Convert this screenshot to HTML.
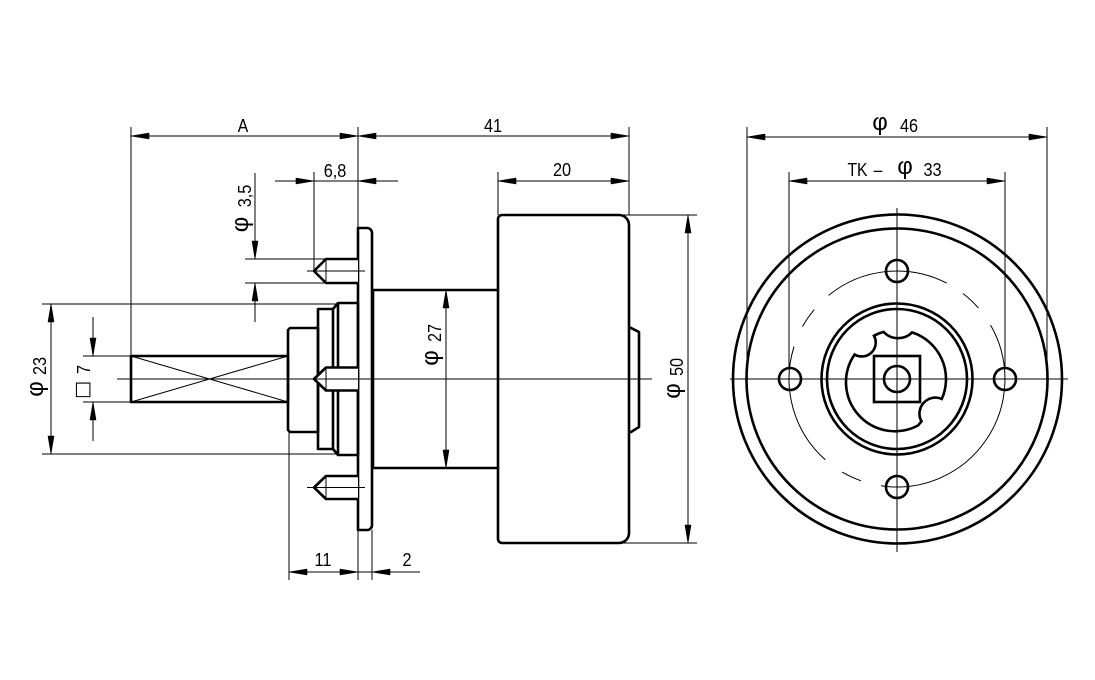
<!DOCTYPE html>
<html><head><meta charset="utf-8"><style>
html,body{margin:0;padding:0;background:#fff;}
svg{display:block;}
.t{font-family:"Liberation Sans","DejaVu Sans",sans-serif;font-size:18.5px;fill:#000;}
.p{font-family:"Liberation Sans","DejaVu Sans",sans-serif;font-size:24px;fill:#000;}
.sq{font-family:"DejaVu Sans","Liberation Sans",sans-serif;font-size:19px;fill:#000;}
</style></head><body>
<svg width="1095" height="680" viewBox="0 0 1095 680" xmlns="http://www.w3.org/2000/svg">
<rect width="1095" height="680" fill="#fff"/>

<!-- thin lines -->
<g stroke="#000" stroke-width="1" fill="none">
  <path d="M131 127V356 M358 127V228 M314 172V271 M498 172V215 M629 127V215
           M289 432V580 M358 530V580 M372 530V580
           M42 304H337 M42 454H337 M83 356H131 M83 402H131
           M245 259H326 M245 283H326 M620 215H697 M620 543H697
           M747 127V379 M1047 127V379 M789 172V368 M1005 172V368"/>
  <path d="M131 136H629 M275 181H398 M498 181H629 M289 572H420
           M747 137H1047 M789 181H1005
           M255 173V259 M255 283V322 M51 304V454 M93 317V356 M93 402V441
           M446 290V468 M688 215V543"/>
  <path d="M117 379H652 M307 271H365 M307 487.5H365 M730 379H1068 M897 208V552"/>
  <path d="M131 356L288 402 M131 402L288 356"/>
  <path d="M946.7 283.1A108 108 0 0 0 828.6 295.4
           M814.3 309.6A108 108 0 0 0 802.5 326.6
           M794.0 346.7A108 108 0 0 0 825.3 459.8
           M842.2 472.1A108 108 0 0 0 861.0 480.8
           M881.0 485.8A108 108 0 0 0 990.5 325
           M978.5 308.1A108 108 0 0 0 963.0 293.5"/>
</g>

<!-- arrowheads -->
<g fill="#000" stroke="#000" stroke-width="0.6" stroke-linejoin="round">
  <polygon points="131,136 149,133 149,139"/>
  <polygon points="358,136 340,133 340,139"/>
  <polygon points="358,136 376,133 376,139"/>
  <polygon points="629,136 611,133 611,139"/>
  <polygon points="314,181 296,178 296,184"/>
  <polygon points="358,181 376,178 376,184"/>
  <polygon points="498,181 516,178 516,184"/>
  <polygon points="629,181 611,178 611,184"/>
  <polygon points="289,572 307,569 307,575"/>
  <polygon points="358,572 340,569 340,575"/>
  <polygon points="372,572 390,569 390,575"/>
  <polygon points="747,137 765,134 765,140"/>
  <polygon points="1047,137 1029,134 1029,140"/>
  <polygon points="789,181 807,178 807,184"/>
  <polygon points="1005,181 987,178 987,184"/>
  <polygon points="255,259 252,241 258,241"/>
  <polygon points="255,283 252,301 258,301"/>
  <polygon points="51,304 48,322 54,322"/>
  <polygon points="51,454 48,436 54,436"/>
  <polygon points="93,356 90,338 96,338"/>
  <polygon points="93,402 90,420 96,420"/>
  <polygon points="446,290 443,308 449,308"/>
  <polygon points="446,468 443,450 449,450"/>
  <polygon points="688,215 685,233 691,233"/>
  <polygon points="688,543 685,525 691,525"/>
</g>

<!-- thick outlines: side view -->
<g stroke="#000" stroke-width="2.6" fill="none" stroke-linejoin="round">
  <rect x="131" y="356" width="157" height="46"/>
  <path d="M290 328H318V432H290L288 430V330Z"/>
  <rect x="318" y="309" width="15" height="140"/>
  <path d="M333 309L338 303H358V455H338L333 449 M338 303V455"/>
  <path d="M358 228H367A5 5 0 0 1 372 233V525A5 5 0 0 1 367 530H358Z"/>
  <path d="M372 290H498 M372 468H498 M373 290V468"/>
  <path d="M502 215H619A10 10 0 0 1 629 225V533A10 10 0 0 1 619 543H502A4 4 0 0 1 498 539V219A4 4 0 0 1 502 215Z"/>
  <path d="M629 327L639 332V427L631 432H629"/>
</g>
<g stroke="#000" stroke-width="2.6" fill="#fff" stroke-linejoin="round">
  <path d="M358 259H326L314 271L326 283H358"/>
  <path d="M358 367.5H326L314 379L326 390.5H358"/>
  <path d="M358 476H326L314 487.5L326 499H358"/>
</g>
<g stroke="#000" stroke-width="1" fill="none">
  <path d="M326 260V282 M326 368.5V389.5 M326 477V498 M314 271H365 M307 379H365 M314 487.5H365"/>
</g>

<!-- thick outlines: front view -->
<g stroke="#000" stroke-width="2.6" fill="none">
  <circle cx="897.5" cy="379" r="164.5"/>
  <circle cx="897" cy="379" r="150.5"/>
  <circle cx="897" cy="379" r="75.5"/>
  <circle cx="897" cy="379" r="70"/>
  <circle cx="790" cy="379" r="11"/>
  <circle cx="1005" cy="379" r="11"/>
  <circle cx="897" cy="271" r="11"/>
  <circle cx="897" cy="487" r="11"/>
  <path d="M854.6 354.5A14 14 0 0 0 874 335.7A49 49 0 0 1 883.5 331.9A20 20 0 0 0 912.1 332.4A49 49 0 0 1 941.8 398.9A16 16 0 0 0 921.5 421.4L918 425.5A49 49 0 0 1 854.6 354.5Z"/>
  <rect x="874" y="356" width="46" height="46"/>
  <circle cx="897" cy="379" r="13"/>
</g>

<!-- horizontal texts -->
<text class="t" text-anchor="middle" transform="translate(243,132) scale(0.85,1)">A</text>
<text class="t" text-anchor="middle" transform="translate(493,132) scale(0.88,1)">41</text>
<text class="t" text-anchor="middle" transform="translate(335,177) scale(0.88,1)">6,8</text>
<text class="t" text-anchor="middle" transform="translate(562,176) scale(0.88,1)">20</text>
<text class="t" text-anchor="middle" transform="translate(323,566) scale(0.88,1)">11</text>
<text class="t" text-anchor="middle" transform="translate(407,566) scale(0.88,1)">2</text>
<text class="p" text-anchor="middle" transform="translate(880,130)">φ</text>
<text class="t" text-anchor="middle" transform="translate(909,132) scale(0.88,1)">46</text>
<text class="t" text-anchor="middle" transform="translate(857.5,176) scale(0.85,1)">TK</text>
<text class="t" text-anchor="middle" transform="translate(878,176) scale(0.85,1)">–</text>
<text class="p" text-anchor="middle" transform="translate(905,174)">φ</text>
<text class="t" text-anchor="middle" transform="translate(932.5,176) scale(0.88,1)">33</text>

<!-- rotated texts -->
<text class="p" text-anchor="middle" transform="translate(248,224.5) rotate(-90)">φ</text>
<text class="t" text-anchor="middle" transform="translate(251,196) rotate(-90) scale(0.88,1)">3,5</text>
<text class="p" text-anchor="middle" transform="translate(43,389) rotate(-90)">φ</text>
<text class="t" text-anchor="middle" transform="translate(46,366) rotate(-90) scale(0.88,1)">23</text>
<text class="sq" text-anchor="middle" transform="translate(88,390) rotate(-90)">□</text>
<text class="t" text-anchor="middle" transform="translate(90,369.5) rotate(-90) scale(0.88,1)">7</text>
<text class="p" text-anchor="middle" transform="translate(438,358) rotate(-90)">φ</text>
<text class="t" text-anchor="middle" transform="translate(441,333) rotate(-90) scale(0.88,1)">27</text>
<text class="p" text-anchor="middle" transform="translate(680,391) rotate(-90)">φ</text>
<text class="t" text-anchor="middle" transform="translate(683,367) rotate(-90) scale(0.88,1)">50</text>
</svg>
</body></html>
